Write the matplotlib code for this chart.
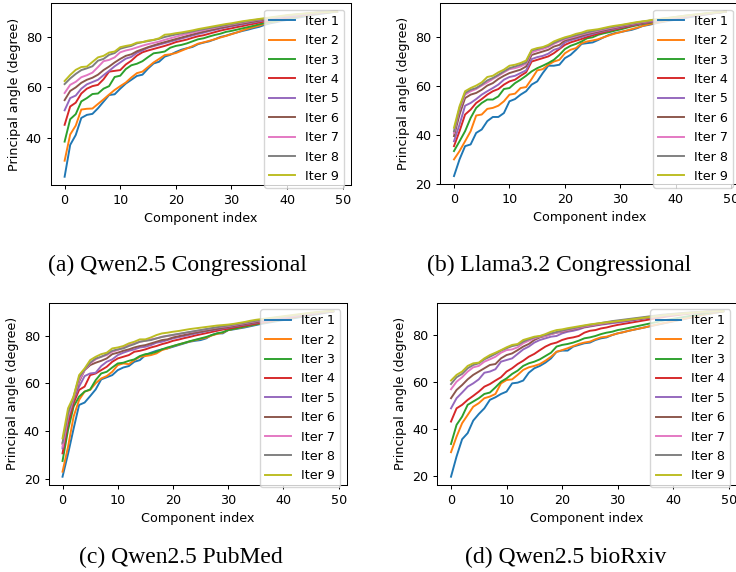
import matplotlib
matplotlib.use("Agg")
import matplotlib.pyplot as plt
import numpy as np

component_index = list(range(50))
iter_labels = [f"Iter {k}" for k in range(1, 10)]

# ---------------- (a) Qwen2.5 Congressional ----------------
qwen_cong_iter1 = [24.9, 37.4, 41.3, 48.0, 49.2, 49.6, 51.8, 54.4, 57.0, 57.3,
                   59.5, 61.5, 63.0, 64.5, 65.0, 67.4, 69.4, 70.1, 72.1, 72.8,
                   73.9, 74.8, 75.4, 75.9, 77.0, 77.6, 78.1, 78.9, 79.8, 80.3,
                   81.0, 81.6, 82.2, 82.7, 83.3, 83.8, 84.6, 85.2, 85.6, 86.1,
                   86.5, 87.0, 87.4, 87.8, 88.2, 88.6, 88.9, 89.2, 89.5, 89.7]
qwen_cong_iter2 = [31.2, 41.5, 45.0, 51.3, 51.6, 51.7, 53.5, 55.3, 57.2, 59.0,
                   60.5, 61.9, 63.9, 65.6, 66.2, 68.0, 69.8, 71.2, 72.7, 73.0,
                   73.5, 74.4, 75.3, 76.2, 77.2, 77.7, 78.3, 78.9, 79.6, 80.2,
                   80.9, 81.6, 82.4, 83.1, 83.7, 84.3, 85.0, 85.5, 85.9, 86.4,
                   86.8, 87.3, 87.7, 88.1, 88.5, 88.8, 89.1, 89.4, 89.6, 89.7]
qwen_cong_iter3 = [38.7, 47.5, 49.5, 54.5, 55.8, 57.4, 57.6, 59.5, 60.5, 64.1,
                   64.6, 67.2, 68.7, 69.3, 70.3, 71.9, 73.4, 73.7, 74.1, 75.6,
                   76.3, 76.7, 77.3, 78.1, 78.9, 79.3, 80.0, 80.6, 81.1, 81.8,
                   82.2, 82.7, 83.2, 83.7, 84.2, 84.8, 85.3, 85.7, 86.1, 86.6,
                   87.0, 87.4, 87.8, 88.2, 88.6, 88.9, 89.2, 89.4, 89.6, 89.8]
qwen_cong_iter4 = [45.3, 52.5, 54.0, 57.6, 59.5, 60.5, 61.0, 63.2, 66.2, 66.5,
                   66.8, 69.0, 70.5, 72.5, 73.8, 74.5, 75.1, 75.7, 76.3, 77.0,
                   77.8, 78.3, 78.8, 79.5, 80.1, 80.5, 81.1, 81.7, 82.3, 82.8,
                   83.2, 83.7, 84.1, 84.6, 85.0, 85.5, 85.9, 86.3, 86.7, 87.0,
                   87.4, 87.8, 88.1, 88.4, 88.7, 89.0, 89.3, 89.5, 89.7, 89.8]
qwen_cong_iter5 = [51.0, 55.8, 56.8, 59.5, 61.2, 62.1, 63.0, 64.8, 66.5, 68.3,
                   69.8, 71.3, 72.0, 73.6, 74.5, 75.6, 76.2, 76.8, 77.4, 78.0,
                   78.6, 79.2, 79.8, 80.4, 81.0, 81.5, 82.1, 82.6, 83.1, 83.6,
                   84.0, 84.4, 84.8, 85.2, 85.6, 86.0, 86.4, 86.8, 87.1, 87.4,
                   87.7, 88.0, 88.3, 88.6, 88.9, 89.1, 89.3, 89.5, 89.7, 89.8]
qwen_cong_iter6 = [55.0, 58.6, 60.0, 61.8, 63.0, 63.8, 65.0, 66.8, 68.2, 69.8,
                   71.2, 72.4, 73.0, 74.2, 75.0, 75.8, 76.5, 77.2, 77.8, 78.4,
                   79.0, 79.6, 80.2, 80.8, 81.4, 81.9, 82.4, 82.9, 83.4, 83.8,
                   84.3, 84.7, 85.1, 85.5, 85.9, 86.3, 86.6, 87.0, 87.3, 87.6,
                   87.9, 88.2, 88.5, 88.8, 89.0, 89.2, 89.4, 89.6, 89.7, 89.8]
qwen_cong_iter7 = [57.8, 61.0, 62.2, 64.0, 64.8, 65.8, 68.0, 70.3, 70.8, 71.8,
                   73.8, 74.5, 75.0, 75.7, 76.4, 77.0, 77.5, 78.0, 78.7, 79.3,
                   79.9, 80.5, 81.0, 81.5, 82.0, 82.5, 83.0, 83.4, 83.9, 84.3,
                   84.7, 85.1, 85.5, 85.9, 86.3, 86.6, 86.9, 87.3, 87.6, 87.9,
                   88.2, 88.4, 88.7, 88.9, 89.1, 89.3, 89.5, 89.6, 89.7, 89.8]
qwen_cong_iter8 = [61.3, 63.5, 65.3, 66.8, 67.5, 68.3, 70.5, 71.2, 72.8, 73.5,
                   75.2, 75.8, 76.3, 77.3, 77.8, 78.2, 78.6, 79.1, 79.8, 80.3,
                   80.8, 81.2, 81.6, 82.0, 82.5, 82.9, 83.3, 83.7, 84.1, 84.5,
                   84.9, 85.3, 85.7, 86.1, 86.4, 86.7, 87.0, 87.3, 87.6, 87.9,
                   88.2, 88.5, 88.7, 88.9, 89.1, 89.3, 89.5, 89.6, 89.7, 89.8]
qwen_cong_iter9 = [62.5, 64.9, 66.9, 68.0, 68.2, 70.0, 71.8, 72.4, 73.7, 74.1,
                   75.8, 76.3, 76.7, 77.6, 77.8, 78.4, 78.7, 79.3, 80.7, 80.9,
                   81.3, 81.6, 82.0, 82.4, 82.9, 83.3, 83.7, 84.1, 84.5, 84.9,
                   85.2, 85.6, 86.0, 86.3, 86.6, 86.9, 87.2, 87.5, 87.8, 88.1,
                   88.4, 88.6, 88.8, 89.0, 89.2, 89.4, 89.5, 89.6, 89.7, 89.8]

# ---------------- (b) Llama3.2 Congressional ----------------
llama_cong_iter1 = [23.1, 29.9, 35.3, 36.0, 40.7, 42.1, 45.5, 47.2, 47.2, 48.8,
                    53.6, 54.5, 56.3, 57.7, 60.4, 61.7, 65.1, 68.1, 68.1, 68.5,
                    71.2, 72.5, 74.6, 77.0, 77.3, 77.6, 78.6, 79.7, 80.7, 81.4,
                    81.8, 82.3, 82.7, 83.4, 84.3, 84.7, 85.2, 85.7, 86.1, 86.5,
                    86.9, 87.3, 87.7, 88.1, 88.5, 88.8, 89.2, 89.5, 89.8, 90.1]
llama_cong_iter2 = [29.9, 33.3, 37.3, 41.4, 47.8, 48.2, 50.5, 50.9, 51.8, 53.6,
                    56.3, 56.7, 59.0, 59.4, 62.7, 66.2, 66.7, 68.5, 69.8, 70.5,
                    73.2, 74.6, 75.3, 77.3, 78.0, 78.4, 78.9, 79.7, 80.5, 81.2,
                    81.8, 82.4, 83.0, 83.6, 84.3, 84.9, 85.4, 85.9, 86.3, 86.8,
                    87.2, 87.6, 88.0, 88.4, 88.7, 89.0, 89.3, 89.6, 89.9, 90.1]
llama_cong_iter3 = [33.3, 37.3, 41.4, 46.8, 50.9, 52.9, 54.3, 54.3, 55.6, 58.6,
                    59.0, 61.0, 62.4, 64.0, 65.8, 67.1, 68.1, 69.2, 70.5, 72.5,
                    74.9, 76.2, 77.0, 78.0, 79.3, 79.7, 80.7, 81.3, 81.8, 82.4,
                    82.9, 83.5, 84.1, 84.6, 85.1, 85.5, 85.9, 86.3, 86.7, 87.1,
                    87.5, 87.9, 88.2, 88.5, 88.8, 89.1, 89.4, 89.7, 89.9, 90.1]
llama_cong_iter4 = [35.3, 41.4, 48.2, 50.2, 52.9, 54.5, 56.3, 57.7, 58.6, 60.4,
                    61.7, 62.4, 64.0, 65.4, 69.8, 70.5, 71.2, 71.9, 73.2, 74.9,
                    76.6, 77.6, 78.3, 79.0, 79.8, 80.5, 81.2, 81.8, 82.4, 82.9,
                    83.4, 83.9, 84.4, 84.9, 85.3, 85.7, 86.1, 86.5, 86.9, 87.3,
                    87.6, 87.9, 88.2, 88.5, 88.8, 89.1, 89.4, 89.7, 89.9, 90.2]
llama_cong_iter5 = [37.3, 44.1, 51.8, 52.9, 54.5, 56.3, 57.7, 59.0, 60.4, 62.4,
                    63.5, 64.0, 65.1, 66.2, 70.8, 71.6, 72.1, 73.0, 74.6, 75.3,
                    77.6, 78.5, 79.1, 79.8, 80.5, 81.1, 81.7, 82.2, 82.7, 83.2,
                    83.7, 84.2, 84.6, 85.0, 85.4, 85.8, 86.2, 86.6, 86.9, 87.3,
                    87.6, 87.9, 88.2, 88.5, 88.8, 89.1, 89.4, 89.7, 89.9, 90.2]
llama_cong_iter6 = [39.4, 48.2, 54.9, 56.3, 57.0, 58.3, 60.0, 61.0, 62.7, 64.0,
                    65.1, 65.8, 66.5, 67.8, 72.5, 73.2, 73.9, 74.6, 75.9, 76.6,
                    78.4, 79.0, 79.6, 80.3, 81.0, 81.5, 82.0, 82.5, 83.0, 83.5,
                    84.0, 84.4, 84.8, 85.2, 85.6, 86.0, 86.4, 86.7, 87.0, 87.4,
                    87.7, 88.0, 88.3, 88.6, 88.9, 89.2, 89.4, 89.7, 89.9, 90.2]
llama_cong_iter7 = [40.7, 50.2, 56.3, 57.7, 58.6, 60.0, 61.3, 62.7, 64.0, 65.4,
                    66.7, 67.1, 67.8, 68.9, 73.5, 74.3, 74.9, 75.7, 77.0, 78.0,
                    78.9, 79.5, 80.1, 80.8, 81.4, 81.9, 82.4, 82.9, 83.4, 83.8,
                    84.3, 84.7, 85.1, 85.5, 85.9, 86.2, 86.6, 86.9, 87.2, 87.5,
                    87.8, 88.1, 88.4, 88.7, 89.0, 89.2, 89.5, 89.7, 90.0, 90.2]
llama_cong_iter8 = [41.4, 50.9, 57.0, 58.3, 59.0, 60.4, 62.1, 63.1, 64.4, 65.8,
                    67.1, 67.8, 68.5, 69.4, 74.3, 74.9, 75.5, 76.2, 77.4, 78.4,
                    79.3, 79.9, 80.5, 81.1, 81.7, 82.2, 82.7, 83.2, 83.7, 84.1,
                    84.5, 84.9, 85.3, 85.7, 86.1, 86.4, 86.8, 87.1, 87.4, 87.7,
                    88.0, 88.3, 88.6, 88.8, 89.1, 89.3, 89.6, 89.8, 90.0, 90.2]
llama_cong_iter9 = [42.8, 51.6, 57.7, 59.0, 60.0, 61.3, 63.5, 64.0, 65.4, 66.5,
                    68.1, 68.5, 69.2, 70.2, 74.6, 75.3, 75.7, 76.6, 78.0, 78.9,
                    79.7, 80.3, 81.1, 81.6, 82.4, 82.7, 83.0, 83.5, 84.0, 84.4,
                    84.7, 85.1, 85.5, 85.9, 86.2, 86.5, 86.9, 87.2, 87.5, 87.7,
                    88.0, 88.3, 88.6, 88.9, 89.1, 89.4, 89.6, 89.8, 90.0, 90.2]

# ---------------- (c) Qwen2.5 PubMed ----------------
qwen_pubmed_iter1 = [20.9, 30.5, 41.0, 51.0, 52.0, 54.7, 57.5, 61.7, 62.6, 63.5,
                     65.6, 66.7, 67.3, 69.1, 69.8, 71.9, 72.9, 73.7, 74.3, 74.7,
                     75.4, 76.1, 76.8, 77.5, 77.9, 78.2, 78.9, 80.3, 81.0, 81.0,
                     82.4, 82.7, 83.1, 83.5, 84.0, 84.5, 85.0, 85.4, 85.8, 86.2,
                     86.6, 87.0, 87.4, 87.8, 88.2, 88.6, 89.0, 89.4, 89.8, 90.2]
qwen_pubmed_iter2 = [23.0, 33.5, 46.1, 53.1, 56.6, 57.3, 60.1, 62.1, 63.1, 64.9,
                     67.7, 68.4, 68.1, 69.8, 71.2, 71.5, 71.9, 72.6, 74.0, 74.7,
                     75.7, 76.3, 77.0, 77.6, 78.2, 78.7, 79.2, 80.1, 80.8, 81.3,
                     82.4, 82.9, 83.3, 83.8, 84.3, 84.8, 85.3, 85.7, 86.1, 86.5,
                     86.9, 87.3, 87.7, 88.1, 88.5, 88.9, 89.3, 89.7, 90.0, 90.3]
qwen_pubmed_iter3 = [27.5, 40.5, 50.3, 54.5, 56.6, 57.5, 61.4, 64.2, 64.9, 66.7,
                     68.4, 68.7, 69.5, 70.1, 71.5, 72.3, 72.6, 73.3, 74.3, 75.1,
                     75.7, 76.4, 77.0, 77.7, 78.3, 78.9, 79.5, 80.3, 81.0, 81.5,
                     82.4, 82.9, 83.4, 83.9, 84.4, 84.8, 85.3, 85.7, 86.1, 86.5,
                     86.9, 87.3, 87.7, 88.1, 88.5, 88.9, 89.3, 89.7, 90.0, 90.3]
qwen_pubmed_iter4 = [30.7, 43.3, 51.7, 57.3, 58.7, 63.5, 64.2, 65.6, 67.0, 69.1,
                     70.5, 71.2, 71.9, 73.3, 73.7, 74.3, 75.1, 75.7, 76.5, 77.1,
                     77.9, 78.4, 79.0, 79.5, 80.1, 80.6, 81.1, 81.6, 82.1, 82.6,
                     83.0, 83.4, 83.9, 84.3, 84.7, 85.1, 85.5, 85.9, 86.3, 86.7,
                     87.1, 87.5, 87.9, 88.3, 88.7, 89.0, 89.4, 89.7, 90.0, 90.3]
qwen_pubmed_iter5 = [32.8, 45.4, 53.1, 58.7, 63.1, 64.2, 64.5, 67.3, 69.1, 70.1,
                     71.9, 72.9, 73.7, 74.3, 75.1, 75.4, 76.1, 77.1, 77.5, 78.2,
                     78.9, 79.4, 79.9, 80.4, 80.9, 81.4, 81.9, 82.3, 82.7, 83.1,
                     83.5, 83.9, 84.3, 84.7, 85.1, 85.5, 85.9, 86.3, 86.7, 87.1,
                     87.5, 87.9, 88.3, 88.6, 88.9, 89.2, 89.5, 89.8, 90.1, 90.3]
qwen_pubmed_iter6 = [34.7, 45.4, 53.1, 60.8, 65.6, 67.7, 68.7, 69.5, 70.5, 72.3,
                     72.9, 73.7, 74.3, 75.1, 75.7, 76.1, 76.8, 77.5, 78.2, 78.5,
                     79.3, 79.8, 80.3, 80.8, 81.3, 81.7, 82.1, 82.5, 82.9, 83.3,
                     83.7, 84.1, 84.5, 84.9, 85.3, 85.7, 86.1, 86.5, 86.9, 87.3,
                     87.7, 88.1, 88.4, 88.7, 89.0, 89.3, 89.6, 89.9, 90.1, 90.3]
qwen_pubmed_iter7 = [33.5, 46.1, 53.8, 61.4, 65.6, 68.4, 70.1, 71.2, 71.9, 73.3,
                     74.0, 75.1, 76.1, 76.8, 77.5, 77.9, 78.5, 78.9, 79.6, 79.9,
                     80.3, 80.7, 81.1, 81.5, 81.9, 82.3, 82.7, 83.1, 83.5, 83.8,
                     84.1, 84.5, 84.9, 85.3, 85.7, 86.1, 86.5, 86.9, 87.3, 87.6,
                     87.9, 88.2, 88.5, 88.8, 89.1, 89.4, 89.7, 90.0, 90.2, 90.4]
qwen_pubmed_iter8 = [35.2, 47.5, 54.5, 62.6, 65.9, 68.7, 70.5, 71.2, 72.3, 73.7,
                     74.3, 74.7, 75.7, 76.5, 77.5, 77.9, 78.2, 78.9, 79.5, 80.0,
                     80.4, 80.8, 81.2, 81.6, 82.0, 82.4, 82.8, 83.2, 83.6, 84.0,
                     84.3, 84.7, 85.1, 85.5, 85.9, 86.3, 86.6, 87.0, 87.4, 87.7,
                     88.0, 88.3, 88.6, 88.9, 89.2, 89.5, 89.8, 90.0, 90.2, 90.4]
qwen_pubmed_iter9 = [37.0, 49.6, 54.5, 63.5, 66.3, 69.8, 71.2, 72.3, 72.9, 74.7,
                     75.1, 75.7, 76.8, 77.5, 78.5, 78.5, 79.3, 80.3, 81.0, 81.3,
                     81.7, 82.0, 82.4, 82.8, 83.1, 83.4, 83.7, 84.0, 84.3, 84.5,
                     84.7, 85.0, 85.4, 85.8, 86.3, 86.7, 87.0, 87.3, 87.6, 87.9,
                     88.2, 88.5, 88.8, 89.1, 89.4, 89.7, 89.9, 90.1, 90.3, 90.4]

# ---------------- (d) Qwen2.5 bioRxiv ----------------
qwen_biorxiv_iter1 = [19.9, 28.5, 35.8, 38.4, 43.7, 46.5, 48.9, 52.5, 53.6, 55.0,
                      56.0, 59.5, 59.8, 60.7, 64.0, 65.9, 66.9, 68.3, 70.1, 72.9,
                      73.4, 73.4, 75.1, 75.8, 76.5, 76.8, 77.9, 78.6, 79.0, 80.0,
                      80.7, 81.2, 81.8, 82.3, 82.8, 83.3, 83.8, 84.3, 84.8, 85.3,
                      85.8, 86.3, 86.8, 87.3, 87.8, 88.3, 88.8, 89.2, 89.6, 90.0]
qwen_biorxiv_iter2 = [30.3, 36.9, 42.6, 46.1, 49.6, 51.1, 53.2, 53.9, 55.0, 59.5,
                      60.9, 61.2, 63.1, 65.2, 66.3, 66.9, 67.7, 69.1, 70.8, 72.9,
                      73.6, 74.4, 75.3, 76.2, 76.8, 77.2, 78.2, 79.0, 79.3, 80.0,
                      80.7, 81.2, 81.8, 82.3, 82.8, 83.3, 83.9, 84.4, 84.9, 85.4,
                      85.9, 86.4, 86.9, 87.4, 87.9, 88.4, 88.9, 89.3, 89.7, 90.0]
qwen_biorxiv_iter3 = [33.8, 41.9, 45.4, 50.4, 51.8, 53.2, 55.0, 55.6, 57.8, 60.2,
                      61.6, 63.5, 64.9, 66.9, 68.0, 68.7, 69.7, 71.1, 72.5, 75.1,
                      75.8, 76.2, 76.8, 77.6, 78.6, 79.0, 79.6, 80.4, 81.0, 81.4,
                      82.1, 82.5, 83.0, 83.5, 84.0, 84.5, 85.0, 85.5, 86.0, 86.5,
                      86.9, 87.3, 87.7, 88.1, 88.5, 88.9, 89.3, 89.6, 89.9, 90.1]
qwen_biorxiv_iter4 = [43.3, 48.9, 50.4, 52.5, 54.2, 56.0, 58.1, 59.2, 60.7, 62.1,
                      64.5, 65.9, 67.7, 69.1, 70.8, 72.0, 73.6, 75.1, 76.2, 76.8,
                      77.9, 78.6, 79.0, 79.6, 81.0, 81.8, 82.1, 82.8, 83.2, 83.8,
                      84.3, 84.7, 85.1, 85.5, 85.9, 86.3, 86.7, 87.1, 87.5, 87.9,
                      88.2, 88.5, 88.8, 89.1, 89.3, 89.5, 89.7, 89.9, 90.0, 90.2]
qwen_biorxiv_iter5 = [48.9, 53.2, 55.6, 58.1, 59.5, 61.2, 64.0, 64.5, 65.5, 68.7,
                      69.4, 70.1, 72.0, 73.9, 75.1, 76.8, 77.9, 78.6, 79.3, 79.6,
                      80.7, 81.4, 81.8, 82.4, 83.2, 83.6, 84.0, 84.4, 84.7, 85.0,
                      85.3, 85.6, 85.9, 86.3, 86.7, 87.1, 87.4, 87.7, 88.0, 88.3,
                      88.6, 88.9, 89.1, 89.3, 89.5, 89.7, 89.9, 90.0, 90.1, 90.2]
qwen_biorxiv_iter6 = [53.2, 56.7, 58.8, 61.2, 63.1, 64.5, 65.9, 67.3, 67.7, 70.1,
                      71.5, 72.2, 73.6, 75.1, 76.2, 77.9, 79.0, 79.6, 80.4, 81.0,
                      81.4, 81.9, 82.4, 82.9, 83.4, 83.8, 84.2, 84.6, 85.0, 85.4,
                      85.7, 86.0, 86.3, 86.6, 86.9, 87.2, 87.5, 87.8, 88.1, 88.4,
                      88.7, 88.9, 89.1, 89.3, 89.5, 89.7, 89.9, 90.0, 90.1, 90.2]
qwen_biorxiv_iter7 = [57.0, 60.2, 62.1, 64.5, 66.3, 66.9, 68.7, 69.7, 70.8, 72.5,
                      73.6, 73.9, 74.8, 76.5, 77.6, 78.6, 79.3, 79.6, 80.4, 81.0,
                      81.6, 82.1, 82.6, 83.1, 83.6, 84.0, 84.4, 84.8, 85.2, 85.6,
                      85.9, 86.2, 86.5, 86.8, 87.1, 87.4, 87.7, 88.0, 88.3, 88.6,
                      88.8, 89.0, 89.2, 89.4, 89.6, 89.8, 89.9, 90.0, 90.1, 90.2]
qwen_biorxiv_iter8 = [59.2, 62.1, 63.5, 65.9, 67.3, 68.0, 69.7, 70.8, 72.0, 73.4,
                      74.4, 75.3, 75.8, 77.2, 78.2, 79.0, 79.5, 80.0, 80.7, 81.3,
                      81.9, 82.4, 82.9, 83.4, 83.9, 84.3, 84.7, 85.1, 85.5, 85.9,
                      86.2, 86.5, 86.8, 87.1, 87.4, 87.7, 88.0, 88.3, 88.6, 88.8,
                      89.0, 89.2, 89.4, 89.6, 89.7, 89.8, 89.9, 90.0, 90.1, 90.2]
qwen_biorxiv_iter9 = [60.7, 63.1, 64.5, 66.9, 68.0, 68.3, 70.1, 71.5, 72.5, 73.6,
                      74.8, 75.8, 76.2, 77.9, 78.6, 79.3, 79.6, 80.4, 81.4, 82.1,
                      82.4, 82.9, 83.3, 83.7, 84.1, 84.5, 84.8, 85.1, 85.4, 85.6,
                      85.9, 86.2, 86.5, 86.8, 87.1, 87.4, 87.7, 88.0, 88.3, 88.6,
                      88.8, 89.0, 89.2, 89.4, 89.6, 89.8, 89.9, 90.0, 90.1, 90.2]

panel_series = [
    [qwen_cong_iter1, qwen_cong_iter2, qwen_cong_iter3, qwen_cong_iter4, qwen_cong_iter5,
     qwen_cong_iter6, qwen_cong_iter7, qwen_cong_iter8, qwen_cong_iter9],
    [llama_cong_iter1, llama_cong_iter2, llama_cong_iter3, llama_cong_iter4, llama_cong_iter5,
     llama_cong_iter6, llama_cong_iter7, llama_cong_iter8, llama_cong_iter9],
    [qwen_pubmed_iter1, qwen_pubmed_iter2, qwen_pubmed_iter3, qwen_pubmed_iter4, qwen_pubmed_iter5,
     qwen_pubmed_iter6, qwen_pubmed_iter7, qwen_pubmed_iter8, qwen_pubmed_iter9],
    [qwen_biorxiv_iter1, qwen_biorxiv_iter2, qwen_biorxiv_iter3, qwen_biorxiv_iter4, qwen_biorxiv_iter5,
     qwen_biorxiv_iter6, qwen_biorxiv_iter7, qwen_biorxiv_iter8, qwen_biorxiv_iter9],
]
captions = ["(a) Qwen2.5 Congressional", "(b) Llama3.2 Congressional",
            "(c) Qwen2.5 PubMed", "(d) Qwen2.5 bioRxiv"]

S = 0.92  # scale of the embedded sub-figures
FS = 10 * S

W, H = 736, 572
fig = plt.figure(figsize=(W / 100, H / 100), dpi=100)

# axes boxes in pixels: left, right, top, bottom
boxes = [(51, 350.7, 3.3, 185), (440.4, 739.4, 3.3, 184.3),
         (49, 346.7, 302.7, 485), (437.4, 736.8, 302.7, 485)]
caption_pos = [(177, 271.5), (559, 271.5), (181, 563.5), (566, 563.5)]

for k, (l, r, t, b) in enumerate(boxes):
    ax = fig.add_axes([l / W, 1 - b / H, (r - l) / W, (b - t) / H])
    for s, lab in zip(panel_series[k], iter_labels):
        ax.plot(component_index, s, label=lab, linewidth=1.5 * S)
    ax.set_xticks([0, 10, 20, 30, 40, 50])
    ax.set_xlabel("Component index", fontsize=FS, labelpad=4 * S)
    ax.set_ylabel("Principal angle (degree)", fontsize=FS, labelpad=4 * S)
    ax.tick_params(labelsize=FS, length=3.5 * S, width=0.8 * S, pad=3.5 * S)
    for sp in ax.spines.values():
        sp.set_linewidth(0.8 * S)
    ax.legend(loc="upper right", fontsize=FS)
    cx, cy = caption_pos[k]
    fig.text(cx / W, 1 - cy / H, captions[k], ha="center", va="baseline",
             family="Liberation Serif", fontsize=17)

fig.savefig("out.png", dpi=100)
